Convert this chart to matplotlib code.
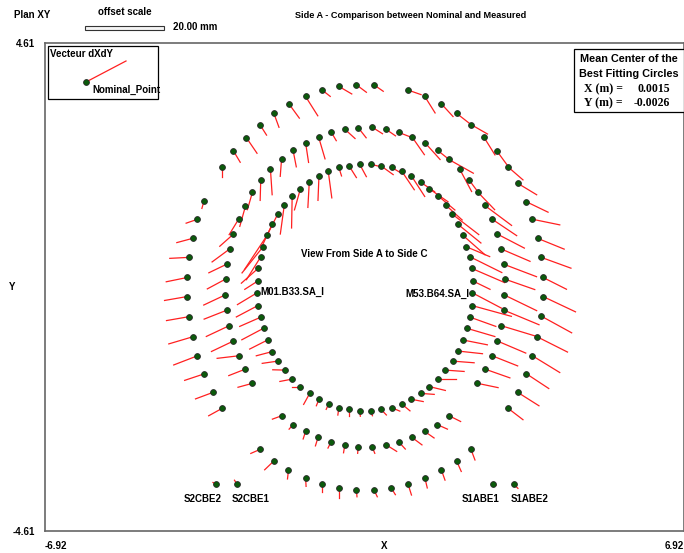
import numpy as np
import matplotlib
matplotlib.use("Agg")
import matplotlib.pyplot as plt
from matplotlib.patches import Rectangle

# --- Datos: posiciones nominales (m) y vectores de desplazamiento dX, dY (mm) ---
outer_x = [-3.07, -3.27, -3.46, -3.61, -3.71, -3.79, -3.83, -3.83, -3.79, -3.71, -3.61, -3.47,
           -3.07, -2.83, -2.55, -2.26, -1.96, -1.63, -1.27, -0.91, -0.55, -0.17, 0.21,
           0.95, 1.31, 1.67, 2.00, 2.31, 2.59, 2.87, 3.11, 3.32, 3.51, 3.64, 3.75, 3.83, 3.87,
           3.87, 3.83, 3.74, 3.64, 3.51, 3.32, 3.11,
           2.31, 2.00, 1.67, 1.31, 0.95, 0.58, 0.21, -0.17, -0.55, -0.91, -1.27, -1.64, -1.96, -2.26]
outer_y = [-2.29, -1.99, -1.64, -1.30, -0.94, -0.56, -0.18, 0.18, 0.56, 0.92, 1.28, 1.62,
           2.27, 2.57, 2.82, 3.07, 3.29, 3.46, 3.60, 3.72, 3.79, 3.82, 3.82,
           3.72, 3.60, 3.46, 3.28, 3.07, 2.83, 2.57, 2.27, 1.96, 1.61, 1.28, 0.92, 0.56, 0.18,
           -0.18, -0.55, -0.94, -1.30, -1.64, -1.99, -2.29,
           -3.07, -3.29, -3.46, -3.60, -3.73, -3.79, -3.83, -3.83, -3.79, -3.73, -3.60, -3.46, -3.29, -3.07]
outer_dx = [-3.47, -4.46, -4.99, -6.00, -6.08, -5.72, -5.75, -5.32, -4.89, -4.05, -2.86, -0.51,
            0.00, 1.70, 2.68, 1.70, 1.34, 2.63, 3.09, 2.03, 3.27, 2.53, 2.35,
            3.27, 2.61, 2.94, 3.70, 4.18, 2.79, 2.86, 3.80, 4.81, 5.47, 6.91, 6.74, 7.52, 5.92,
            8.20, 7.70, 7.70, 6.91, 5.65, 5.39, 3.80,
            1.01, 1.16, 0.91, 0.63, 0.84, 1.09, 0.84, 0.15, 0.00, 0.00, 0.13, -0.25, -2.28, -2.28]
outer_dy = [-1.67, -1.45, -1.45, -2.02, -1.58, -0.87, -0.87, -0.95, -0.22, -0.95, -0.87, -1.58,
            -2.30, -2.49, -3.43, -2.34, -3.19, -3.15, -4.27, -1.39, -1.67, -1.65, -1.43,
            -1.00, -3.64, -2.80, -2.52, -2.10, -3.90, -3.41, -2.88, -2.54, -2.30, -1.24, -2.39, -2.39, -2.60,
            -3.38, -3.69, -3.38, -3.69, -3.25, -2.97, -2.54,
            -2.32, -2.28, -2.21, -2.30, -2.34, -1.56, -1.56, -1.56, -2.39, -1.76, -1.95, -1.95, -1.91, -0.87]

middle_x = [-2.42, -2.57, -2.72, -2.83, -2.92, -2.98, -3.01, -3.00, -2.98, -2.91, -2.83, -2.72,
            -2.57, -2.42, -2.24, -2.03, -1.79, -1.54, -1.27, -0.99, -0.71, -0.42, -0.13,
            0.17, 0.47, 0.75, 1.03, 1.31, 1.59, 1.83, 2.07, 2.27, 2.46, 2.61, 2.77, 2.88, 2.96,
            3.02, 3.04, 3.03, 3.03, 2.96, 2.88, 2.77, 2.61, 2.45,
            1.83, 1.58, 1.31, 1.03, 0.75, 0.47, 0.17, -0.13, -0.42, -0.72, -1.00, -1.27, -1.54, -1.78]
middle_y = [-1.82, -1.55, -1.30, -1.02, -0.73, -0.44, -0.15, 0.15, 0.43, 0.72, 1.00, 1.28,
            1.53, 1.79, 2.02, 2.22, 2.41, 2.58, 2.73, 2.84, 2.92, 2.98, 3.01,
            3.02, 2.98, 2.92, 2.84, 2.73, 2.58, 2.41, 2.22, 2.02, 1.79, 1.54, 1.28, 1.00, 0.72,
            0.43, 0.15, -0.15, -0.44, -0.73, -1.02, -1.30, -1.55, -1.82,
            -2.43, -2.60, -2.73, -2.84, -2.93, -2.98, -3.02, -3.02, -2.98, -2.93, -2.84, -2.73, -2.60, -2.43]
middle_dx = [-3.65, -4.23, -5.42, -5.57, -5.82, -5.67, -5.42, -4.63, -4.48, -4.48, -3.47, -2.38,
             -1.44, -1.27, -0.15, 0.43, -0.33, 0.81, 0.76, 1.65, 1.22, 2.58, 2.00,
             2.63, 2.41, 3.37, 3.17, 3.87, 3.54, 6.20, 2.96, 2.46, 4.23, 6.76, 6.18, 6.84, 7.34,
             8.28, 7.60, 8.20, 8.79, 9.04, 7.19, 6.43, 6.33, 5.22,
             2.99, 2.58, 2.35, 2.56, 1.62, 2.71, 0.68, -0.15, -0.33, -0.76, -0.66, -0.61, -1.01, -2.43]
middle_dy = [-0.87, -1.45, -0.56, -2.32, -2.39, -1.95, -2.23, -2.17, -1.89, -2.88, -2.69, -3.41,
             -4.49, -3.84, -4.49, -5.57, -3.73, -3.62, -4.40, -4.90, -1.82, -2.04, -2.23,
             -1.45, -1.45, -1.15, -3.97, -3.75, -2.47, -3.04, -4.86, -2.88, -3.84, -4.40, -3.62, -3.10, -2.75,
             -2.75, -2.32, -3.47, -3.19, -2.39, -2.67, -2.23, -1.95, -0.95,
             -1.30, -1.00, -1.43, -1.67, -1.54, -1.47, -1.43, -1.43, -1.78, -1.32, -1.89, -1.65, -1.00, -0.78]

inner_x = [-2.32, -2.31, -2.30, -2.24, -2.19, -2.10, -1.99, -1.87, -1.73, -1.56, -1.38, -1.19,
           -0.98, -0.78, -0.55, -0.33, -0.10,
           0.14, 0.36, 0.59, 0.81, 1.02, 1.22, 1.40, 1.60, 1.76, 1.90, 2.02, 2.13, 2.21, 2.29,
           2.33, 2.36, 2.34,
           2.33, 2.29, 2.22, 2.13, 2.03, 1.91, 1.75, 1.60, 1.40, 1.22, 1.01, 0.81, 0.59, 0.36, 0.14,
           -0.10, -0.32, -0.55, -0.77, -0.98, -1.18, -1.38, -1.56, -1.72, -1.87, -1.99, -2.09,
           -2.18, -2.24, -2.30]
inner_y = [-0.11, 0.11, 0.35, 0.57, 0.76, 0.98, 1.19, 1.38, 1.55, 1.72, 1.86, 1.98,
           2.10, 2.19, 2.26, 2.29, 2.32,
           2.32, 2.29, 2.26, 2.19, 2.10, 1.98, 1.86, 1.72, 1.55, 1.38, 1.19, 0.98, 0.76, 0.57,
           0.35, 0.11, -0.11,
           -0.35, -0.57, -0.78, -1.00, -1.21, -1.40, -1.57, -1.74, -1.88, -2.01, -2.12, -2.21, -2.28, -2.31, -2.34,
           -2.34, -2.31, -2.28, -2.21, -2.12, -2.01, -1.88, -1.74, -1.57, -1.40, -1.22, -1.00,
           -0.78, -0.57, -0.35]
inner_dx = [-4.96, -3.22, -4.20, -3.62, -5.32, -5.75, -2.79, -2.86, -1.01, -0.15, -1.52, -0.35,
            -0.25, 0.91, 0.68, 1.87, 1.70,
            2.96, 3.11, 2.53, 3.19, 3.37, 3.54, 4.81, 4.23, 4.20, 6.76, 5.90, 5.65, 5.90, 8.03,
            8.28, 4.23, 7.34,
            9.98, 6.51, 7.09, 6.25, 6.18, 5.47, 4.81, 4.41, 4.15, 3.44, 3.11, 2.10, 2.10, 1.39, 0.43,
            0.18, 0.00, -0.25, -0.63, -0.66, -1.54, -2.10, -3.11, -3.04, -3.95, -4.05, -4.56,
            -5.49, -5.32, -5.47]
inner_dy = [-2.60, -1.80, -3.25, -5.05, -5.77, -7.59, -5.27, -4.92, -6.42, -7.07, -4.71, -5.57,
            -5.42, -5.92, -1.89, -2.60, -2.75,
            -0.65, -1.95, -1.30, -4.12, -4.55, -2.10, -2.91, -3.10, -3.32, -4.55, -4.19, -4.34, -2.17, -3.47,
            -3.12, -1.80, -3.38,
            -2.39, -2.04, -1.82, -1.08, -0.59, -0.37, -0.30, 0.00, -0.87, -0.22, -0.52, -1.52, -0.76, -1.26, -1.08,
            -1.19, -1.56, -1.63, -1.19, -1.45, -2.43, 0.00, -0.52, 0.07, -0.50, -0.93, -2.02,
            -2.54, -2.04, -2.52]

ref_names = ["S2CBE2", "S2CBE1", "S1ABE1", "S1ABE2"]
ref_x = [-3.20, -2.75, 2.78, 3.24]
ref_y = [-3.73, -3.73, -3.73, -3.73]
ref_dx = [-0.86, -0.68, 0.84, 1.01]
ref_dy = [0.43, 0.93, -0.15, -0.87]

mean_center_x = 0.0015
mean_center_y = -0.0026
offset_mm = 20.0
xlim = 6.92
ylim = 4.61
K = 1.711 / offset_mm   # m de gráfico por mm de desplazamiento

W, H = 684, 553
FONT = dict(family="Liberation Sans", weight="bold", size=7)


def fx(px):
    return px / W


def fy(py):
    return 1 - py / H


fig = plt.figure(figsize=(W / 100, H / 100), dpi=100)
ax = fig.add_axes([fx(44.5), fy(531), fx(684) - fx(44.5), fy(43) - fy(531)])
ax.set_xlim(-xlim, xlim)
ax.set_ylim(-ylim, ylim)

for s in ax.spines.values():
    s.set_color("#666666")
    s.set_linewidth(1.2)

ax.set_xticks([-xlim, xlim])
ax.set_xticklabels([f"{-xlim:.2f}", f"{xlim:.2f}"], **FONT)
ax.set_yticks([-ylim, ylim])
ax.set_yticklabels([f"{-ylim:.2f}", f"{ylim:.2f}"], **FONT)
ax.tick_params(length=0, pad=7)
ax.get_xticklabels()[0].set_ha("left")
ax.get_xticklabels()[1].set_ha("right")


def draw_set(xs, ys, dxs, dys):
    xs, ys = np.array(xs), np.array(ys)
    x1 = xs + np.array(dxs) * K
    y1 = ys + np.array(dys) * K
    ax.plot(np.vstack([xs, x1]), np.vstack([ys, y1]), color="#ff2020", lw=0.9, zorder=2)
    ax.plot(xs, ys, "o", ms=4.2, mfc="#0b5a0b", mec="#2a2a2a", mew=0.6, zorder=3)


draw_set(outer_x, outer_y, outer_dx, outer_dy)
draw_set(middle_x, middle_y, middle_dx, middle_dy)
draw_set(inner_x, inner_y, inner_dx, inner_dy)
draw_set(ref_x, ref_y, ref_dx, ref_dy)

# etiquetas de puntos
label_off = [-10, 9.5, -9, 11]
for name, x, y, off in zip(ref_names, ref_x, ref_y, label_off):
    ax.annotate(name, (x, y), xytext=(off, -10.5), textcoords="offset points",
                ha="center", va="center", **FONT)
ax.annotate("M01.B33.SA_I", (inner_x[0], inner_y[0]), xytext=(2.5, 0.5),
            textcoords="offset points", ha="left", va="center", **FONT)
ax.annotate("M53.B64.SA_I", (inner_x[33], inner_y[33]), xytext=(-2.5, -0.5),
            textcoords="offset points", ha="right", va="center", **FONT)
ax.text(0, 0.62, "View From Side A to Side C", ha="center", va="center", **FONT)

# textos de la figura
fig.text(fx(14), fy(15), "Plan XY", ha="left", va="center", **FONT)
fig.text(fx(125), fy(12), "offset scale", ha="center", va="center", **FONT)
fig.text(fx(411), fy(15), "Side A - Comparison between Nominal and Measured",
         ha="center", va="center", family="Liberation Sans", weight="bold", size=6.6)
fig.text(fx(173), fy(27.5), f"{offset_mm:.2f} mm", ha="left", va="center", **FONT)
fig.text(fx(384), fy(546), "X", ha="center", va="center", **FONT)
fig.text(fx(12), fy(287), "Y", ha="center", va="center", **FONT)

# barra de escala (20 mm)
bar_w = offset_mm * K / (2 * xlim) * (fx(684) - fx(44.5))
fig.add_artist(Rectangle((fx(85), fy(29.5)), bar_w, fy(25.5) - fy(29.5),
                         transform=fig.transFigure, fc="#f4f4f4", ec="#333333", lw=0.8))

# caja de leyenda
fig.add_artist(Rectangle((fx(47.5), fy(98.5)), fx(157.5) - fx(47.5), fy(46) - fy(98.5),
                         transform=fig.transFigure, fc="white", ec="black", lw=0.9, zorder=4))
fig.text(fx(50), fy(54), "Vecteur dXdY", ha="left", va="center", zorder=5, **FONT)
fig.add_artist(plt.Line2D([fx(86), fx(126)], [fy(82), fy(61)], transform=fig.transFigure,
                          color="#ff2020", lw=0.9, zorder=5))
fig.add_artist(plt.Line2D([fx(86)], [fy(82)], transform=fig.transFigure, marker="o", ms=4.2,
                          mfc="#0b5a0b", mec="#2a2a2a", mew=0.6, zorder=6))
fig.text(fx(92), fy(90), "Nominal_Point", ha="left", va="center", zorder=5, **FONT)

# caja del centro medio
BOX = dict(family="Liberation Sans", weight="bold", size=7.8)
SERIF = dict(family="Liberation Serif", weight="bold", size=8.5)
fig.add_artist(Rectangle((fx(574), fy(112)), fx(683.5) - fx(574), fy(49) - fy(112),
                         transform=fig.transFigure, fc="white", ec="black", lw=0.9, zorder=4))
fig.text(fx(629), fy(59), "Mean Center of the", ha="center", va="center", zorder=5, **BOX)
fig.text(fx(629), fy(74), "Best Fitting Circles", ha="center", va="center", zorder=5, **BOX)
fig.text(fx(584), fy(89), "X (m) =", ha="left", va="center", zorder=5, **SERIF)
fig.text(fx(670), fy(89), f"{mean_center_x:.4f}", ha="right", va="center", zorder=5, **SERIF)
fig.text(fx(584), fy(103), "Y (m) =", ha="left", va="center", zorder=5, **SERIF)
fig.text(fx(670), fy(103), f"{mean_center_y:.4f}", ha="right", va="center", zorder=5, **SERIF)

fig.savefig("out.png", dpi=100)
